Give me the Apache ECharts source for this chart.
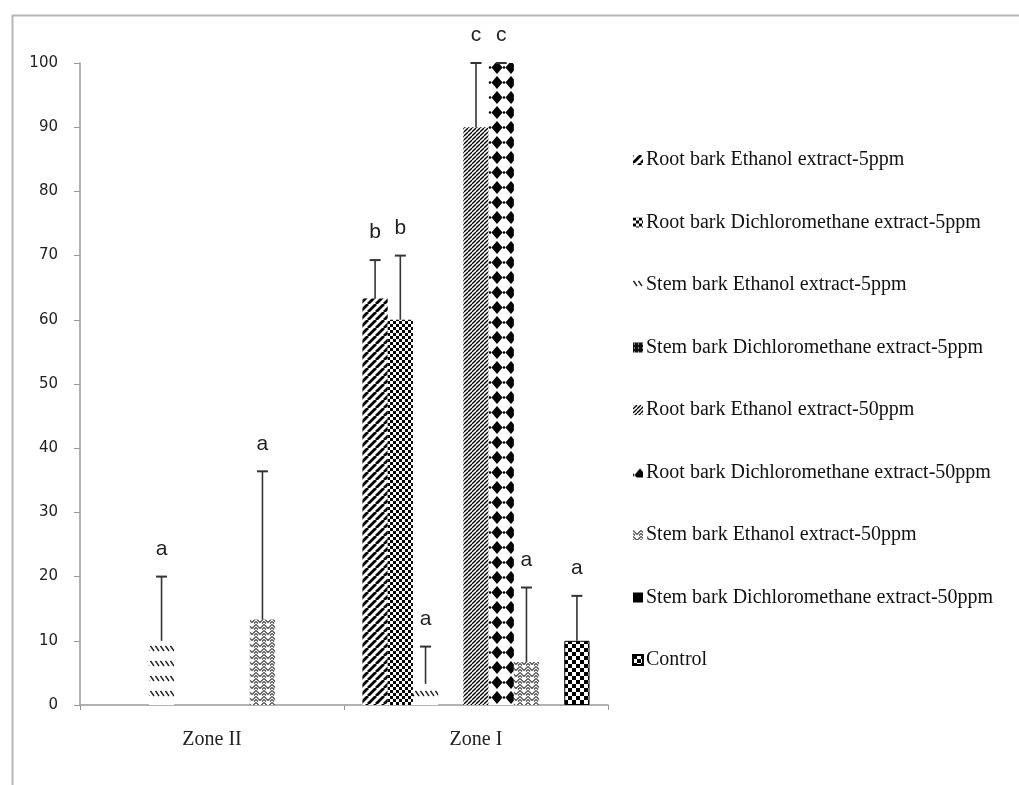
<!DOCTYPE html>
<html><head><meta charset="utf-8">
<script src="https://cdn.jsdelivr.net/npm/echarts@6/dist/echarts.min.js"></script>
<style>html,body{margin:0;padding:0;background:#fff}#c{width:1019px;height:785px}</style>
</head><body><div id="c"></div>
<script>
// ---- data ----
const categories = ['Zone II', 'Zone I'];
const seriesNames = [
  'Root bark Ethanol extract-5ppm',
  'Root bark Dichloromethane extract-5ppm',
  'Stem bark Ethanol extract-5ppm',
  'Stem bark Dichloromethane extract-5ppm',
  'Root bark Ethanol extract-50ppm',
  'Root bark Dichloromethane extract-50ppm',
  'Stem bark Ethanol extract-50ppm',
  'Stem bark Dichloromethane extract-50ppm',
  'Control'
];
const rootEthanol5 = [0, 63.3];
const rootDcm5 = [0, 60];
const stemEthanol5 = [10, 3.3];
const stemDcm5 = [0, 0];
const rootEthanol50 = [0, 90];
const rootDcm50 = [0, 100];
const stemEthanol50 = [13.3, 6.7];
const stemDcm50 = [0, 0];
const control = [0, 10];

const errRootEthanol5 = [0, 6];
const errRootDcm5 = [0, 10];
const errStemEthanol5 = [10, 5.8];
const errStemDcm5 = [0, 0];
const errRootEthanol50 = [0, 10];
const errRootDcm50 = [0, 0];
const errStemEthanol50 = [23.1, 11.6];
const errStemDcm50 = [0, 0];
const errControl = [0, 7];

const lettersRootEthanol5 = ['', 'b'];
const lettersRootDcm5 = ['', 'b'];
const lettersStemEthanol5 = ['a', 'a'];
const lettersStemDcm5 = ['', ''];
const lettersRootEthanol50 = ['', 'c'];
const lettersRootDcm50 = ['', 'c'];
const lettersStemEthanol50 = ['a', 'a'];
const lettersStemDcm50 = ['', ''];
const lettersControl = ['', 'a'];

const yMin = 0, yMax = 100, yStep = 10;

const allValues = [rootEthanol5, rootDcm5, stemEthanol5, stemDcm5, rootEthanol50, rootDcm50, stemEthanol50, stemDcm50, control];
const allErrors = [errRootEthanol5, errRootDcm5, errStemEthanol5, errStemDcm5, errRootEthanol50, errRootDcm50, errStemEthanol50, errStemDcm50, errControl];
const allLetters = [lettersRootEthanol5, lettersRootDcm5, lettersStemEthanol5, lettersStemDcm5, lettersRootEthanol50, lettersRootDcm50, lettersStemEthanol50, lettersStemDcm50, lettersControl];

// ---- patterns ----
function pat(w, h, draw, bg) {
  const c = document.createElement('canvas');
  c.width = w; c.height = h;
  const ctx = c.getContext('2d');
  ctx.fillStyle = bg || '#fff';
  ctx.fillRect(0, 0, w, h);
  draw(ctx, w, h);
  return { image: c, repeat: 'repeat' };
}
function diag(ctx, p, lw, color) {
  ctx.strokeStyle = color || '#000';
  ctx.lineWidth = lw;
  for (let k = -1; k <= 2; k++) {
    ctx.beginPath();
    ctx.moveTo(k * p - p, p);
    ctx.lineTo(k * p, 0);
    ctx.stroke();
  }
}
const patterns = [
  pat(8, 8, (ctx) => diag(ctx, 8, 2.8)),
  pat(6, 6, (ctx) => { ctx.fillStyle = '#000'; ctx.fillRect(0, 0, 3, 3); ctx.fillRect(3, 3, 3, 3); }),
  pat(5, 15, (ctx) => { ctx.strokeStyle = '#222'; ctx.lineWidth = 1.4; ctx.beginPath(); ctx.moveTo(0.5, 1); ctx.lineTo(4, 6); ctx.stroke(); }),
  pat(4, 4, (ctx) => { ctx.fillStyle = '#fff'; ctx.fillRect(1, 1, 1, 1); }, '#111'),
  pat(4, 4, (ctx) => diag(ctx, 4, 1.3)),
  pat(14, 15, (ctx) => {
    ctx.fillStyle = '#000';
    ctx.beginPath(); ctx.moveTo(7, 1); ctx.lineTo(12.5, 7.5); ctx.lineTo(7, 14); ctx.lineTo(1.5, 7.5); ctx.closePath(); ctx.fill();
    ctx.beginPath(); ctx.arc(0, 7.5, 1.3, 0, Math.PI * 2); ctx.fill();
    ctx.beginPath(); ctx.arc(14, 7.5, 1.3, 0, Math.PI * 2); ctx.fill();
  }),
  pat(8, 6, (ctx) => {
    ctx.strokeStyle = '#444'; ctx.lineWidth = 1.2;
    ctx.beginPath(); ctx.moveTo(0, 0.5); ctx.lineTo(4, 4.5); ctx.lineTo(8, 0.5); ctx.stroke();
    ctx.beginPath(); ctx.moveTo(0, 3.5); ctx.lineTo(2, 5.5); ctx.stroke();
    ctx.beginPath(); ctx.moveTo(8, 3.5); ctx.lineTo(6, 5.5); ctx.stroke();
  }),
  '#000',
  pat(8, 8, (ctx) => { ctx.fillStyle = '#000'; ctx.fillRect(0, 0, 4, 4); ctx.fillRect(4, 4, 4, 4); })
];

const catGap = 0.14;
const series = seriesNames.map((name, i) => ({
  name: name,
  type: 'bar',
  barGap: '0%',
  barCategoryGap: (catGap * 100) + '%',
  itemStyle: {
    color: patterns[i],
    borderColor: i === 8 ? '#000' : 'transparent',
    borderWidth: i === 8 ? 1 : 0
  },
  emphasis: { disabled: true },
  data: allValues[i].map(v => v === 0 ? { value: 0, itemStyle: { borderWidth: 0 } } : v)
}));

const errData = [];
allValues.forEach((vals, s) => {
  vals.forEach((v, c) => {
    if (v > 0) errData.push([c, v, v + allErrors[s][c], s]);
  });
});

series.push({
  name: 'errors',
  type: 'custom',
  z: 10,
  clip: false,
  renderItem: function (params, api) {
    const cat = api.value(0), v = api.value(1), top = api.value(2), idx = api.value(3);
    const band = api.size([1, 0])[0];
    const group = band * (1 - catGap);
    const bw = group / 9;
    const cx = api.coord([cat, 0])[0] - group / 2 + bw * (idx + 0.5);
    const yv = api.coord([cat, v])[1];
    const yt = api.coord([cat, top])[1];
    const letter = allLetters[idx][cat];
    return {
      type: 'group',
      children: [
        { type: 'line', shape: { x1: cx, y1: yv, x2: cx, y2: yt }, style: { stroke: '#333', lineWidth: 1.6 } },
        { type: 'line', shape: { x1: cx - 5.5, y1: yt, x2: cx + 5.5, y2: yt }, style: { stroke: '#333', lineWidth: 2 } },
        { type: 'text', style: { text: letter, x: cx, y: yt - 17, align: 'center', verticalAlign: 'bottom', font: '21px "Liberation Sans Narrow", "Liberation Sans", sans-serif', fill: '#222' } }
      ]
    };
  },
  data: errData
});

const chart = echarts.init(document.getElementById('c'));
chart.setOption({
  backgroundColor: '#fff',
  animation: false,
  graphic: [{
    type: 'rect', left: 10, top: 13, silent: true,
    shape: { x: 0, y: 0, width: 1100, height: 900 },
    style: { fill: 'none', stroke: '#b5b5b5', lineWidth: 2 }
  }],
  grid: { left: 80, right: 411, top: 63, bottom: 80, containLabel: false },
  legend: {
    data: seriesNames,
    orient: 'vertical',
    left: 627,
    top: 144,
    icon: 'rect',
    itemWidth: 10,
    itemHeight: 10,
    itemGap: 40.5,
    selectedMode: false,
    textStyle: { fontFamily: '"Liberation Serif", serif', fontSize: 20, color: '#111', lineHeight: 22, padding: [0, 0, 0, -2] }
  },
  xAxis: {
    type: 'category',
    data: categories,
    axisLine: { lineStyle: { color: '#999', width: 1.5 } },
    axisTick: { show: true, length: 5, lineStyle: { color: '#999' } },
    axisLabel: { margin: 25, fontFamily: '"Liberation Serif", serif', fontSize: 20, color: '#222' }
  },
  yAxis: {
    type: 'value',
    min: yMin, max: yMax, interval: yStep,
    axisLine: { show: true, lineStyle: { color: '#999', width: 1.5 } },
    axisTick: { show: true, length: 6, lineStyle: { color: '#999' } },
    splitLine: { show: false },
    axisLabel: { margin: 22, fontFamily: '"DejaVu Sans", sans-serif', fontSize: 15, color: '#222' }
  },
  series: series
});
</script>
</body></html>
